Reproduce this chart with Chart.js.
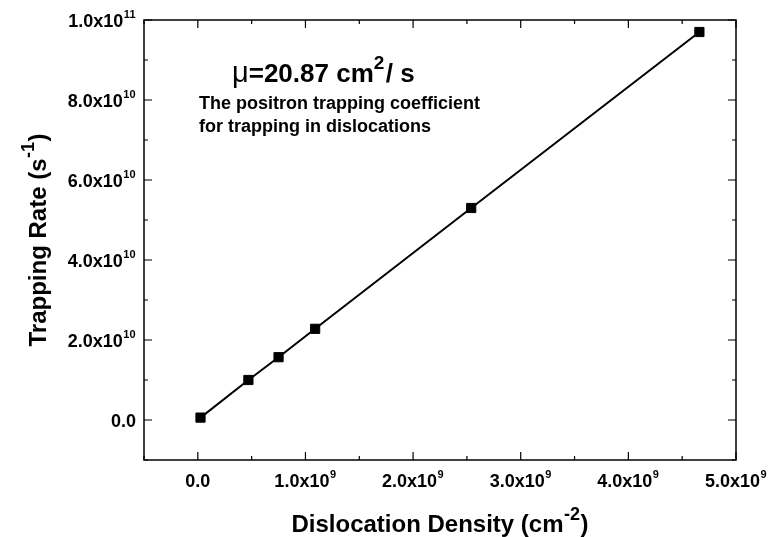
<!DOCTYPE html>
<html lang="en">
<head>
<meta charset="utf-8">
<title>Trapping Rate vs Dislocation Density</title>
<script src="https://cdn.jsdelivr.net/npm/chart.js"></script>
<style>
    html, body { margin: 0; padding: 0; background: #fff; }
    #rateChart { display: block; }
</style>
</head>
<body>
<canvas id="rateChart" width="771" height="537"></canvas>
<script>
// measured points
const dislocationDensity = [0.025e9, 0.47e9, 0.75e9, 1.09e9, 2.54e9, 4.66e9];
const trappingRate = [0.06e10, 1.0e10, 1.57e10, 2.28e10, 5.3e10, 9.7e10];

// axis ticks, labels written as mantissa + power of ten
const xTicks = [0, 1e9, 2e9, 3e9, 4e9, 5e9];
const xTickBase = ['0.0', '1.0x10', '2.0x10', '3.0x10', '4.0x10', '5.0x10'];
const xTickExp = ['', '9', '9', '9', '9', '9'];
const yTicks = [0, 2e10, 4e10, 6e10, 8e10, 1e11];
const yTickBase = ['0.0', '2.0x10', '4.0x10', '6.0x10', '8.0x10', '1.0x10'];
const yTickExp = ['', '10', '10', '10', '10', '11'];

const FONT = '"Liberation Sans", Arial, sans-serif';

// draw a run of text pieces (some raised as superscripts)
function drawRuns(ctx, runs, x, y, align) {
    let total = 0;
    runs.forEach(r => {
        ctx.font = `${r.weight || 'bold'} ${r.size}px ${r.family || FONT}`;
        r.w = ctx.measureText(r.t).width + (r.gap || 0);
        total += r.w;
    });
    let left = align === 'center' ? x - total / 2 : align === 'right' ? x - total : x;
    ctx.textAlign = 'left';
    ctx.textBaseline = 'alphabetic';
    runs.forEach(r => {
        ctx.font = `${r.weight || 'bold'} ${r.size}px ${r.family || FONT}`;
        ctx.fillText(r.t, left + (r.gap || 0) / 2, y - (r.rise || 0));
        left += r.w;
    });
}

function tickRuns(base, exp) {
    const runs = [{ t: base, size: 18 }];
    if (exp) runs.push({ t: exp, size: 11, rise: 9, gap: 1 });
    return runs;
}

const frame = {
    id: 'frame',
    beforeDatasetsDraw(chart) {
        const { ctx, chartArea: a, scales: { x, y } } = chart;
        ctx.save();
        ctx.strokeStyle = '#000';
        ctx.lineWidth = 1.5;
        ctx.strokeRect(a.left, a.top, a.right - a.left, a.bottom - a.top);
        ctx.lineWidth = 1.2;
        ctx.beginPath();
        // x ticks every 5e8, major at whole 1e9
        for (let v = -5e8; v <= 5e9 + 1; v += 5e8) {
            const px = x.getPixelForValue(v);
            const len = Math.abs(v % 1e9) < 1 ? 8 : 4;
            ctx.moveTo(px, a.bottom); ctx.lineTo(px, a.bottom - len);
            ctx.moveTo(px, a.top); ctx.lineTo(px, a.top + len);
        }
        // y ticks every 1e10, major at 2e10 steps
        for (let v = -1e10; v <= 1e11 + 1; v += 1e10) {
            const py = y.getPixelForValue(v);
            const len = Math.abs(v % 2e10) < 1 ? 8 : 4;
            ctx.moveTo(a.left, py); ctx.lineTo(a.left + len, py);
            ctx.moveTo(a.right, py); ctx.lineTo(a.right - len, py);
        }
        ctx.stroke();
        ctx.restore();
    },
    afterDraw(chart) {
        const { ctx, chartArea: a, scales: { x, y } } = chart;
        ctx.save();
        ctx.fillStyle = '#000';

        xTicks.forEach((v, i) => {
            drawRuns(ctx, tickRuns(xTickBase[i], xTickExp[i]), x.getPixelForValue(v), a.bottom + 27, 'center');
        });
        yTicks.forEach((v, i) => {
            drawRuns(ctx, tickRuns(yTickBase[i], yTickExp[i]), a.left - 8, y.getPixelForValue(v) + 6.5, 'right');
        });

        // axis titles
        drawRuns(ctx, [
            { t: 'Dislocation Density (cm', size: 24 },
            { t: '-2', size: 18, rise: 12, gap: 1 },
            { t: ')', size: 24 }
        ], (a.left + a.right) / 2, 532, 'center');

        ctx.save();
        ctx.translate(46, (a.top + a.bottom) / 2);
        ctx.rotate(-Math.PI / 2);
        drawRuns(ctx, [
            { t: 'Trapping Rate (s', size: 24 },
            { t: '-1', size: 18, rise: 12, gap: 1 },
            { t: ')', size: 24 }
        ], 0, 0, 'center');
        ctx.restore();

        // annotation
        drawRuns(ctx, [
            { t: '\u03bc', size: 29, weight: 'normal' },
            { t: '=20.87 cm', size: 26 },
            { t: '2', size: 19, rise: 13 },
            { t: '/ s', size: 26, gap: 3 }
        ], 232, 82, 'left');
        drawRuns(ctx, [{ t: 'The positron trapping coefficient', size: 18 }], 199, 109, 'left');
        drawRuns(ctx, [{ t: 'for trapping in dislocations', size: 18 }], 199, 132, 'left');
        ctx.restore();
    }
};

const ctx = document.getElementById('rateChart').getContext('2d');
new Chart(ctx, {
    type: 'scatter',
    data: {
        datasets: [{
            data: dislocationDensity.map((d, i) => ({ x: d, y: trappingRate[i] })),
            showLine: true,
            borderColor: '#000',
            borderWidth: 2,
            pointStyle: 'rect',
            pointRadius: 6.5,
            pointBackgroundColor: '#000',
            pointBorderColor: '#000',
            pointBorderWidth: 1
        }]
    },
    options: {
        responsive: false,
        animation: false,
        layout: { padding: { left: 144, right: 35, top: 20, bottom: 77 } },
        plugins: { legend: { display: false }, tooltip: { enabled: false } },
        scales: {
            x: {
                type: 'linear', min: -5e8, max: 5e9,
                ticks: { display: false },
                grid: { display: false, drawTicks: false },
                border: { display: false }
            },
            y: {
                type: 'linear', min: -1e10, max: 1e11,
                ticks: { display: false },
                grid: { display: false, drawTicks: false },
                border: { display: false }
            }
        }
    },
    plugins: [frame]
});
</script>
</body>
</html>
